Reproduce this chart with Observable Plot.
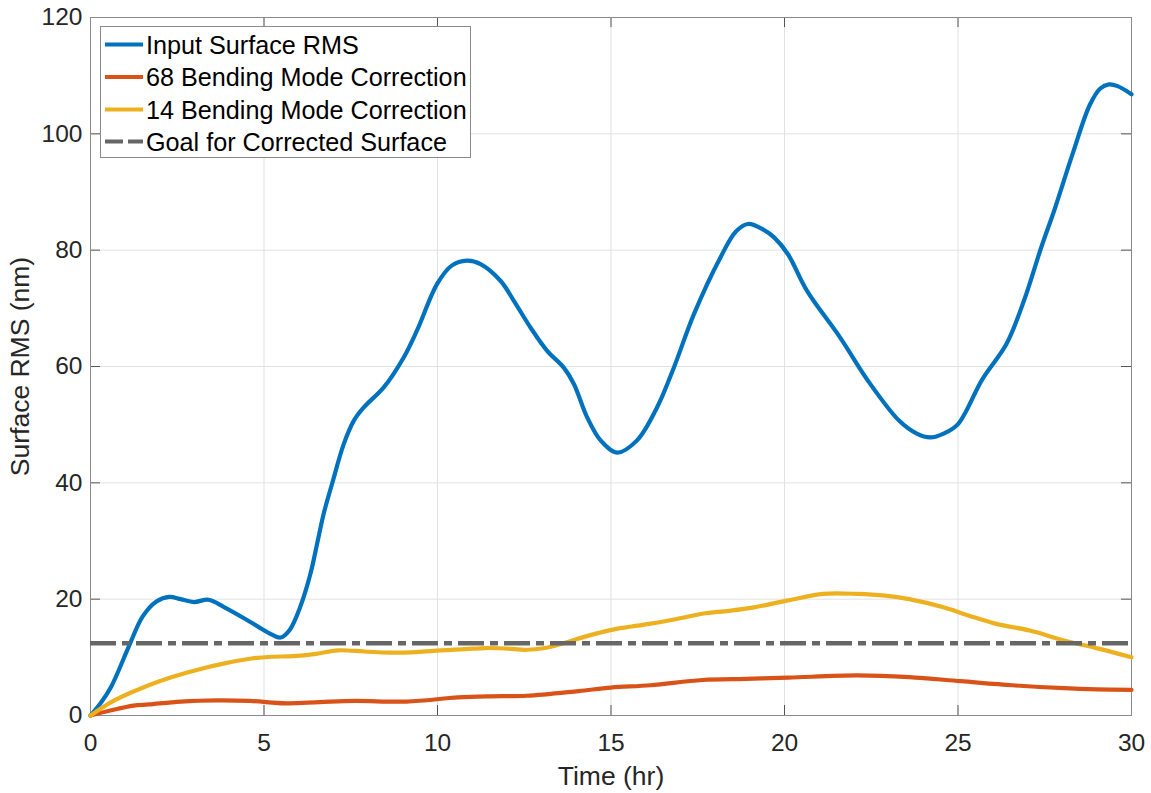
<!DOCTYPE html>
<html>
<head>
<meta charset="utf-8">
<script src="https://cdn.jsdelivr.net/npm/d3@7"></script>
<script src="https://cdn.jsdelivr.net/npm/@observablehq/plot@0.6"></script>
<style>
  html, body { margin: 0; padding: 0; background: #fff; }
  #wrap { position: relative; width: 1151px; height: 793px; font-family: "Liberation Sans", Arial, Helvetica, sans-serif; }
  #legend { position: absolute; left: 100px; top: 26px; }
</style>
</head>
<body>
<div id="wrap"></div>
<script>
// ---- data ----
const xTicks = [0, 5, 10, 15, 20, 25, 30];
const yTicks = [0, 20, 40, 60, 80, 100, 120];
const goalValue = 12.4;

const seriesNames = ["Input Surface RMS", "68 Bending Mode Correction", "14 Bending Mode Correction", "Goal for Corrected Surface"];
const seriesColors = ["#0072BD", "#D95319", "#EDB120", "#666666"];

const inputT = [0, 0.3, 0.6, 1.1, 1.5, 1.9, 2.27, 2.6, 2.98, 3.4, 3.86, 4.46, 4.85, 5.2, 5.48, 5.75, 6.04, 6.34, 6.53, 6.72, 6.96, 7.3, 7.59, 7.88, 8.45, 9.03, 9.41, 9.99, 10.4, 10.85, 11.24, 11.82, 12.2, 12.68, 13.16, 13.64, 13.93, 14.31, 14.7, 15.18, 15.75, 16.33, 16.81, 17.39, 18.15, 18.6, 18.95, 19.4, 19.7, 20.1, 20.65, 21.6, 22.4, 23.3, 23.8, 24.2, 24.6, 25.0, 25.7, 26.4, 26.9, 27.4, 27.8, 28.3, 28.8, 29.1, 29.35, 29.6, 30];
const inputV = [0, 2.2, 5.0, 11.8, 17.0, 19.6, 20.4, 20.0, 19.5, 19.9, 18.6, 16.6, 15.2, 14.0, 13.4, 14.8, 18.6, 24.4, 29.5, 34.7, 39.8, 46.7, 50.7, 53.0, 56.4, 61.6, 66.2, 74.2, 77.3, 78.2, 77.6, 74.7, 71.3, 66.7, 62.7, 59.8, 57.0, 51.3, 47.3, 45.2, 47.3, 53.0, 59.8, 69.0, 78.7, 83.2, 84.5, 83.5, 82.2, 79.3, 73.0, 65.0, 57.6, 50.7, 48.5, 47.8, 48.5, 50.1, 57.8, 63.9, 71.3, 80.5, 87.3, 96.5, 105.0, 107.8, 108.5, 108.2, 106.8];

const m68T = [0, 0.6, 1.24, 1.68, 2.6, 3.66, 4.6, 5.64, 6.6, 7.62, 9.11, 10.59, 11.5, 12.57, 14.06, 15.0, 16.14, 17.63, 18.9, 20.11, 22.1, 23.59, 25.08, 26.57, 28.06, 29.0, 30];
const m68V = [0, 0.9, 1.7, 1.9, 2.4, 2.6, 2.5, 2.1, 2.3, 2.5, 2.4, 3.1, 3.3, 3.4, 4.2, 4.8, 5.2, 6.1, 6.3, 6.5, 6.9, 6.6, 5.9, 5.2, 4.7, 4.5, 4.4];

const m14T = [0, 0.69, 1.68, 2.4, 3.17, 3.9, 4.65, 5.2, 5.84, 6.5, 7.13, 7.9, 8.61, 9.4, 10.1, 10.8, 11.39, 12.0, 12.57, 13.1, 13.56, 14.1, 14.65, 15.15, 15.6, 16.14, 16.9, 17.63, 18.4, 19.12, 20.11, 21.11, 22.1, 22.9, 23.59, 24.58, 25.3, 26.07, 27.07, 28.06, 29.05, 30];
const m14V = [0, 2.6, 5.2, 6.7, 8.0, 9.0, 9.8, 10.1, 10.2, 10.6, 11.2, 11.0, 10.8, 10.9, 11.2, 11.4, 11.6, 11.5, 11.3, 11.6, 12.3, 13.3, 14.2, 14.9, 15.3, 15.8, 16.6, 17.5, 18.0, 18.6, 19.8, 20.9, 20.9, 20.6, 20.0, 18.6, 17.2, 15.8, 14.6, 12.9, 11.5, 10.0];

// ---- tables built from the arrays ----
const input = inputT.map((t, i) => ({t, v: inputV[i]}));
const m68 = m68T.map((t, i) => ({t, v: m68V[i]}));
const m14 = m14T.map((t, i) => ({t, v: m14V[i]}));

const FONT = '"Liberation Sans", Arial, Helvetica, sans-serif';
const W = 1151, H = 793, ML = 90, MR = 20, MT = 17, MB = 78;
const FW = W - ML - MR, FH = H - MT - MB, TICK = 10;

const chart = Plot.plot({
  width: W,
  height: H,
  marginLeft: ML,
  marginRight: MR,
  marginTop: MT,
  marginBottom: MB,
  style: {fontFamily: FONT, fontSize: "24px", color: "#262626", background: "#fff", overflow: "visible"},
  x: {domain: [0, 30]},
  y: {domain: [0, 120]},
  marks: [
    Plot.gridX(xTicks, {stroke: "#e1e1e1", strokeOpacity: 1}),
    Plot.gridY(yTicks, {stroke: "#e1e1e1", strokeOpacity: 1}),
    // inward ticks on all four sides
    Plot.ruleX(xTicks, {insetTop: FH - TICK, stroke: "#555"}),
    Plot.ruleX(xTicks, {insetBottom: FH - TICK, stroke: "#555"}),
    Plot.ruleY(yTicks, {insetRight: FW - TICK, stroke: "#555"}),
    Plot.ruleY(yTicks, {insetLeft: FW - TICK, stroke: "#555"}),
    Plot.frame({stroke: "#8a8a8a"}),
    Plot.axisX(xTicks, {tickSize: 0, tickPadding: 18, fontSize: 24.5, label: null}),
    Plot.axisY(yTicks, {tickSize: 0, tickPadding: 8, fontSize: 24.5, label: null}),
    Plot.axisX({ticks: [], label: "Time (hr)", labelAnchor: "center", labelArrow: "none", labelOffset: 69, fontSize: 26.5}),
    Plot.axisY({ticks: [], label: "Surface RMS (nm)", labelAnchor: "center", labelArrow: "none", labelOffset: 80, fontSize: 26.5}),
    Plot.line(input, {x: "t", y: "v", stroke: seriesColors[0], strokeWidth: 4.2, curve: "catmull-rom"}),
    Plot.line(m68, {x: "t", y: "v", stroke: seriesColors[1], strokeWidth: 4.2, curve: "catmull-rom"}),
    Plot.line(m14, {x: "t", y: "v", stroke: seriesColors[2], strokeWidth: 4.2, curve: "catmull-rom"}),
    Plot.ruleY([goalValue], {stroke: seriesColors[3], strokeWidth: 4.5, strokeDasharray: "26,6,8,6"})
  ]
});

const wrap = document.getElementById("wrap");
wrap.appendChild(chart);

// ---- legend (overlay) ----
const lg = d3.create("svg")
  .attr("id", "legend")
  .attr("width", 372)
  .attr("height", 133)
  .style("font-family", FONT);
lg.append("rect").attr("x", 0.5).attr("y", 0.5).attr("width", 370).attr("height", 131)
  .attr("fill", "#fff").attr("stroke", "#8a8a8a");
const rowY = [18.5, 51, 83.5, 115.5];
seriesNames.forEach((name, i) => {
  const g = lg.append("g");
  const ln = g.append("line").attr("x1", 5).attr("x2", 43).attr("y1", rowY[i]).attr("y2", rowY[i])
    .attr("stroke", seriesColors[i]).attr("stroke-width", 4.2);
  if (i === 3) ln.attr("stroke-dasharray", "18,5");
  g.append("text").attr("x", 46).attr("y", rowY[i]).attr("dy", "0.36em")
    .attr("font-size", 25.2).attr("fill", "#000").text(name);
});
wrap.appendChild(lg.node());
</script>
</body>
</html>
